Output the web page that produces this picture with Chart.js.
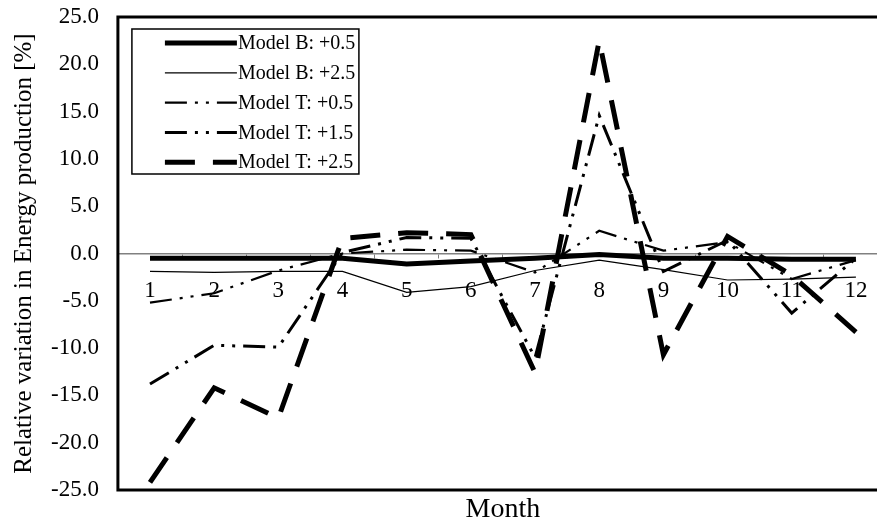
<!DOCTYPE html>
<html>
<head>
<meta charset="utf-8">
<script src="https://cdn.jsdelivr.net/npm/chart.js@4.4.0/dist/chart.umd.min.js"></script>
<style>
  html, body { margin: 0; padding: 0; overflow: hidden; background: #fff; }
  #wrap { width: 900px; height: 526px; position: relative; }
</style>
</head>
<body>
<div id="wrap"><canvas id="chart"></canvas></div>
<script>
// months shown along the zero line
const months = ['1', '2', '3', '4', '5', '6', '7', '8', '9', '10', '11', '12'];

// relative variation in energy production [%]
const modelB05 = [-0.5, -0.5, -0.5, -0.5, -1.1, -0.8, -0.5, -0.1, -0.5, -0.5, -0.6, -0.6];
const modelB25 = [-1.9, -2.0, -1.9, -1.9, -4.1, -3.5, -1.8, -0.7, -1.7, -2.8, -2.7, -2.5];
const modelT05 = [-5.2, -4.2, -1.8, 0.0, 0.4, 0.3, -2.0, 2.4, 0.3, 1.2, -2.7, -0.7];
const modelT15 = [-13.8, -9.7, -9.9, 0.1, 1.7, 1.6, -11.0, 14.6, -1.9, 1.4, -6.3, -0.5];
const modelT25 = [-24.2, -14.2, -17.4, 1.6, 2.2, 2.0, -12.6, 22.5, -10.7, 1.8, -2.3, -8.3];

const yTicks = [-25, -20, -15, -10, -5, 0, 5, 10, 15, 20, 25];

const serif = 'Liberation Serif';

// month numbers sit just under the zero line, placed through the x scale
const monthLabels = {
  id: 'monthLabels',
  afterDraw(chart) {
    const { ctx } = chart;
    const xs = chart.scales.x, ys = chart.scales.y;
    const y0 = ys.getPixelForValue(0);
    ctx.save();
    ctx.fillStyle = '#000';
    ctx.font = '23px "' + serif + '"';
    ctx.textAlign = 'center';
    ctx.textBaseline = 'top';
    months.forEach((m, i) => ctx.fillText(m, xs.getPixelForValue(i), y0 + 26));
    ctx.restore();
  }
};

// black frame round the plot + legend box in the upper left corner
const frameAndLegend = {
  id: 'frameAndLegend',
  afterDraw(chart) {
    const { ctx, chartArea: a } = chart;
    ctx.save();
    ctx.strokeStyle = '#000';
    ctx.lineWidth = 3;
    ctx.strokeRect(a.left, a.top, a.right - a.left, a.bottom - a.top);

    const bx = a.left + 14, by = a.top + 12, bw = 227, bh = 145;
    ctx.fillStyle = '#fff';
    ctx.fillRect(bx, by, bw, bh);
    ctx.lineWidth = 1.5;
    ctx.strokeRect(bx, by, bw, bh);

    ctx.font = '20px "' + serif + '"';
    ctx.textBaseline = 'middle';
    ctx.textAlign = 'left';
    chart.data.datasets.forEach((ds, i) => {
      const y = by + 14 + i * 29.8;
      ctx.beginPath();
      ctx.strokeStyle = '#000';
      ctx.lineWidth = ds.borderWidth;
      ctx.lineCap = 'butt';
      ctx.setLineDash(ds.borderDash || []);
      ctx.moveTo(bx + 33, y);
      ctx.lineTo(bx + 105, y);
      ctx.stroke();
      ctx.setLineDash([]);
      ctx.fillStyle = '#000';
      ctx.fillText(ds.label, bx + 106, y + 1);
    });
    ctx.restore();
  }
};

const dashDotDot = [22, 8, 3, 8, 3, 8];

new Chart(document.getElementById('chart'), {
  type: 'line',
  data: {
    labels: months,
    datasets: [
      { label: 'Model B: +0.5', data: modelB05, borderColor: '#000', borderWidth: 5 },
      { label: 'Model B: +2.5', data: modelB25, borderColor: '#000', borderWidth: 1.2 },
      { label: 'Model T: +0.5', data: modelT05, borderColor: '#000', borderWidth: 2.2, borderDash: dashDotDot },
      { label: 'Model T: +1.5', data: modelT15, borderColor: '#000', borderWidth: 3, borderDash: dashDotDot },
      { label: 'Model T: +2.5', data: modelT25, borderColor: '#000', borderWidth: 5, borderDash: [30, 18] }
    ]
  },
  options: {
    responsive: true,
    maintainAspectRatio: false,
    animation: false,
    layout: { padding: { left: 9, right: 12, top: 17, bottom: 0 } },
    elements: {
      point: { radius: 0, hoverRadius: 0 },
      line: { tension: 0, fill: false, borderCapStyle: 'butt', borderJoinStyle: 'miter' }
    },
    plugins: {
      legend: { display: false },
      tooltip: { enabled: false }
    },
    scales: {
      x: {
        type: 'category',
        position: { y: 0 },
        offset: true,
        grid: { offset: true, drawOnChartArea: false, tickLength: 4, color: '#808080' },
        border: { color: '#808080', width: 1.5 },
        ticks: { display: false }
      },
      month: {
        type: 'category',
        labels: months,
        position: 'bottom',
        offset: true,
        grid: { display: false },
        border: { display: false },
        ticks: { display: false },
        afterFit: (scale) => { scale.height = 36; },
        title: {
          display: true,
          text: 'Month',
          color: '#000',
          font: { family: serif, size: 28 },
          padding: { top: 2, bottom: 0 }
        }
      },
      y: {
        min: -25,
        max: 25,
        afterBuildTicks: (scale) => { scale.ticks = yTicks.map(v => ({ value: v })); },
        grid: { display: true, drawOnChartArea: false, drawTicks: true, tickLength: 16, tickColor: 'rgba(0,0,0,0)' },
        border: { display: false },
        ticks: {
          color: '#000',
          font: { family: serif, size: 23 },
          padding: 3,
          callback: (v) => Number(v).toFixed(1)
        },
        title: {
          display: true,
          text: 'Relative variation in Energy production [%]',
          color: '#000',
          font: { family: serif, size: 25 },
          padding: { top: 0, bottom: 9 }
        }
      }
    }
  },
  plugins: [monthLabels, frameAndLegend]
});
</script>
</body>
</html>
